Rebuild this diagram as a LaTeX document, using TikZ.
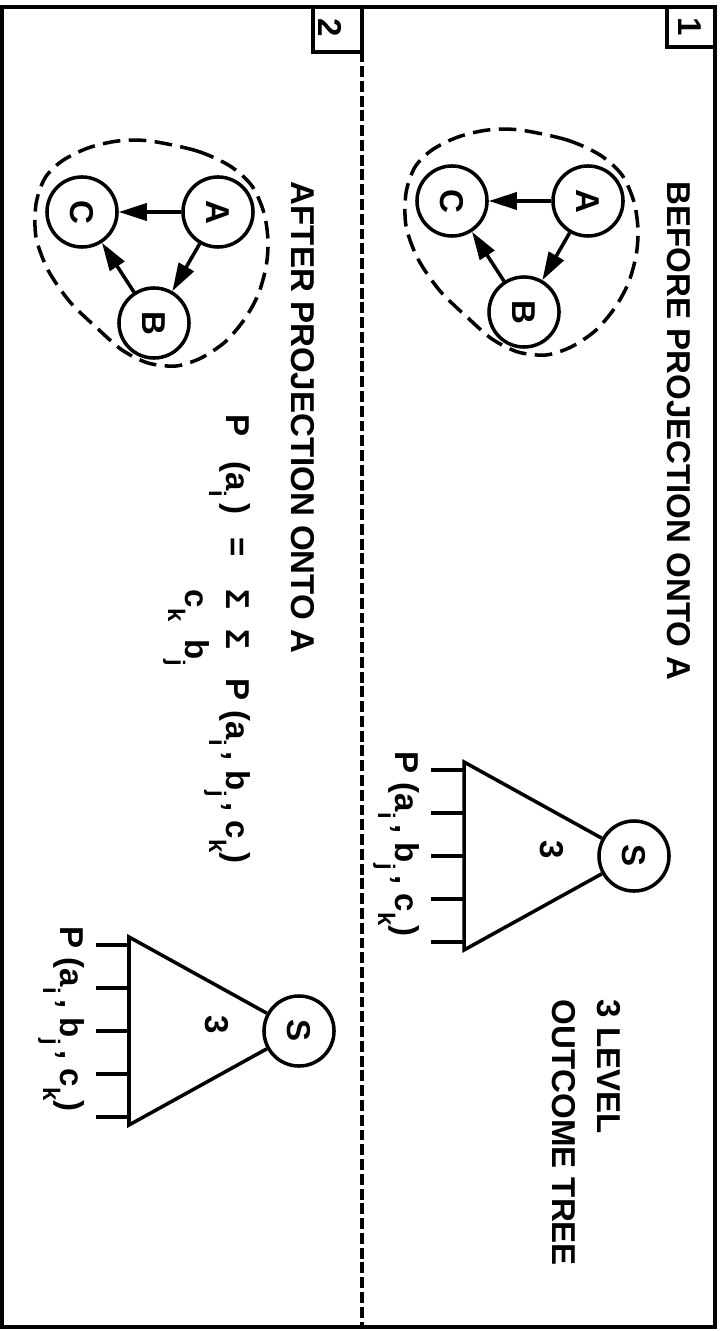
\documentclass[tikz,border=0pt]{standalone}
\usepackage{fontspec}
\setmainfont{Liberation Sans}
\usetikzlibrary{arrows.meta}
\newcommand{\sbx}[1]{\raisebox{-4.8pt}{\fontsize{6.8}{7}\selectfont#1}}

\begin{document}
\begin{tikzpicture}[x=0.01cm,y=-0.01cm,line width=1pt,
  txt/.style={rotate=-90,inner sep=0pt,font=\fontsize{9.4}{11}\selectfont\bfseries},
  lbl/.style={txt,anchor=base west},
  circ/.style={txt,circle,draw,minimum size=0.7cm},
  arr/.style={-{Triangle[length=0.28cm,width=0.17cm]}},
  outline/.style={dash pattern=on 5pt off 2.4pt},
  divline/.style={line width=1pt,dash pattern=on 3.1pt off 1.1pt}]
\useasboundingbox (0,0) rectangle (723,1331);
% frame, divider and panel numbers
\draw[line width=1.4pt] (2,7) rectangle (715,1327);
\draw[divline] (362,7) -- (362,1327);
\draw (667,7) rectangle (715,47);
\node[txt] (num1) at (690,27) {1};
\draw (313,7) rectangle (362,52);
\node[txt] (num2) at (330,28) {2};
% titles
\node[lbl] (before) at (667,180) {BEFORE PROJECTION ONTO A};
\node[lbl] (after) at (291,180) {AFTER PROJECTION ONTO A};
% the two networks
\foreach \dx/\dy/\g in {0/0/1,-370/11/2}{
  \node[circ] (A\g) at (588+\dx,201+\dy) {A};
  \node[circ] (C\g) at (452+\dx,201+\dy) {C};
  \node[circ] (B\g) at (524+\dx,312+\dy) {B};
  \draw[arr] (A\g) -- (C\g);
  \draw[arr] (A\g) -- (B\g);
  \draw[arr] (B\g) -- (C\g);
  \draw[outline,shift={(\dx,\dy)}] plot[smooth cycle] coordinates {(520,130) (567,140) (600,155) (622,175) (634,202) (638,230) (636,256) (628,284) (614,309) (595,331) (571,347) (546,355) (518,352) (492,339) (468,318) (440,291) (418,259) (406,226) (406,193) (415,167) (432,150) (458,137) (488,130)};
}
% outcome trees
\foreach \sx/\sy/\t in {634/856/1,299/1031/2}{
  \node[circ] (S\t) at (\sx,\sy) {S};
  \coordinate (top\t) at (\sx-170,\sy-94);
  \coordinate (bot\t) at (\sx-170,\sy+94);
  \draw (S\t) -- (top\t) -- (bot\t) -- (S\t);
  \foreach \d in {-86,-43,0,43,86}
    \draw (\sx-170,\sy+\d) -- ++(-33,0);
  \node[txt] (lev\t) at (\sx-82,\sy-6) {3};
  \node[lbl] (leaf\t) at (\sx-239,\sy-106) {P (a\sbx{i}\,, b\sbx{j}\,, c\sbx{k})};
}
\node[lbl] (lvl) at (597,998) {3 LEVEL};
\node[lbl] (tree) at (552,998) {OUTCOME TREE};
% marginal
\node[lbl] (marg) at (226,413) {P\hspace{0.75em}(a\sbx{i}\,)\hspace{0.7em}=\hspace{1em}Σ\hspace{0.6em}Σ\hspace{0.9em}P (a\sbx{i}\,, b\sbx{j}\,, c\sbx{k})};
\node[lbl] (limc) at (185,588) {c\sbx{k}};
\node[lbl] (limb) at (185,638) {b\sbx{j}};
\end{tikzpicture}
\end{document}
